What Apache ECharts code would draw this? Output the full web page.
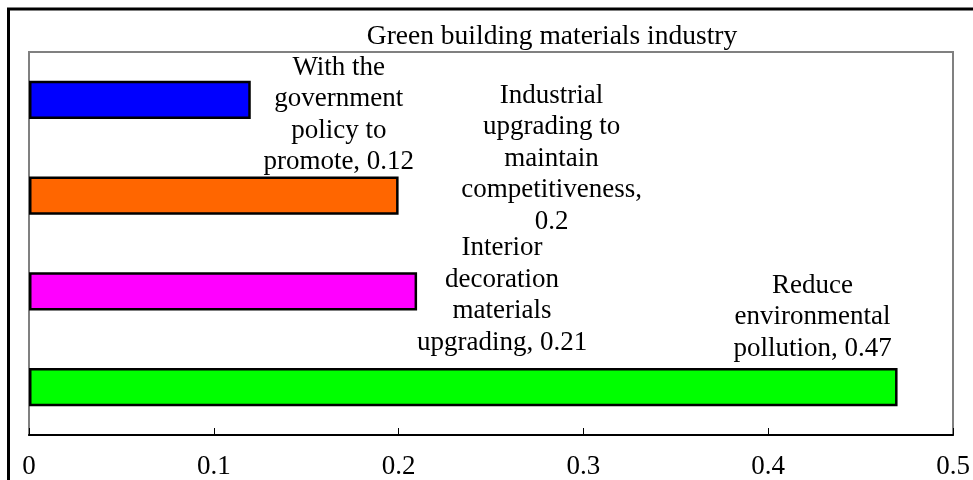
<!DOCTYPE html>
<html>
<head>
<meta charset="utf-8">
<title>Green building materials industry</title>
<script src="https://cdn.jsdelivr.net/npm/echarts@6/dist/echarts.min.js"></script>
<style>
  html, body { margin: 0; padding: 0; background: #ffffff; }
  #chart { width: 973px; height: 480px; }
</style>
</head>
<body>
<div id="chart"></div>
<script>
// Drivers of the green building materials industry (share of responses)
const chartTitle = 'Green building materials industry';
const categories = [
  'With the\ngovernment\npolicy to\npromote',
  'Industrial\nupgrading to\nmaintain\ncompetitiveness',
  'Interior\ndecoration\nmaterials\nupgrading',
  'Reduce\nenvironmental\npollution'
];
const values = [0.12, 0.2, 0.21, 0.47];
const barColors = ['#0000ff', '#ff6600', '#ff00ff', '#00ff00'];
const labelJoins = [', ', ',\n', ', ', ', '];
const xTicks = [0, 0.1, 0.2, 0.3, 0.4, 0.5];

// Hand-placed label offsets (px) from each bar's end
const labelOffsets = [[88, 15], [153, -37], [85, 4], [-85, -70]];

const FONT = '"Liberation Serif", "DejaVu Serif", serif';

const chart = echarts.init(document.getElementById('chart'), null, { renderer: 'canvas' });

const seriesData = values.map((v, i) => ({
  value: v,
  itemStyle: { color: barColors[i] },
  label: { offset: labelOffsets[i] }
}));

chart.setOption({
  backgroundColor: '#ffffff',
  animation: false,
  graphic: [
    {
      type: 'rect',
      shape: { x: 8.5, y: 9, width: 1000, height: 500 },
      style: { fill: 'none', stroke: '#000000', lineWidth: 3 },
      z: 100
    },
    {
      type: 'text',
      x: 552,
      y: 37,
      style: {
        text: chartTitle,
        font: '27.5px ' + FONT,
        fill: '#000000',
        align: 'center',
        verticalAlign: 'middle'
      }
    }
  ],
  grid: {
    left: 29,
    right: 20,
    top: 52,
    bottom: 45,
    show: true,
    borderColor: '#808080',
    borderWidth: 2,
    containLabel: false
  },
  xAxis: {
    type: 'value',
    min: xTicks[0],
    max: xTicks[xTicks.length - 1],
    interval: 0.1,
    splitLine: { show: false },
    axisLine: { show: true, onZero: false, lineStyle: { color: '#000000', width: 2 } },
    axisTick: { show: true, inside: true, length: 7, lineStyle: { color: '#000000', width: 1 } },
    axisLabel: {
      margin: 18,
      color: '#000000',
      fontFamily: FONT,
      fontSize: 27,
      formatter: v => String(Math.round(v * 10) / 10)
    }
  },
  yAxis: {
    type: 'category',
    data: categories,
    inverse: true,
    axisLine: { show: false },
    axisTick: { show: false },
    axisLabel: { show: false },
    splitLine: { show: false }
  },
  series: [{
    type: 'bar',
    data: seriesData,
    barWidth: '40%',
    itemStyle: { borderColor: '#000000', borderWidth: 2.5 },
    label: {
      show: true,
      position: 'right',
      distance: 0,
      align: 'center',
      verticalAlign: 'middle',
      color: '#000000',
      fontFamily: FONT,
      fontSize: 27,
      lineHeight: 31.5,
      formatter: p => p.name + labelJoins[p.dataIndex] + p.value
    }
  }]
});
</script>
</body>
</html>
